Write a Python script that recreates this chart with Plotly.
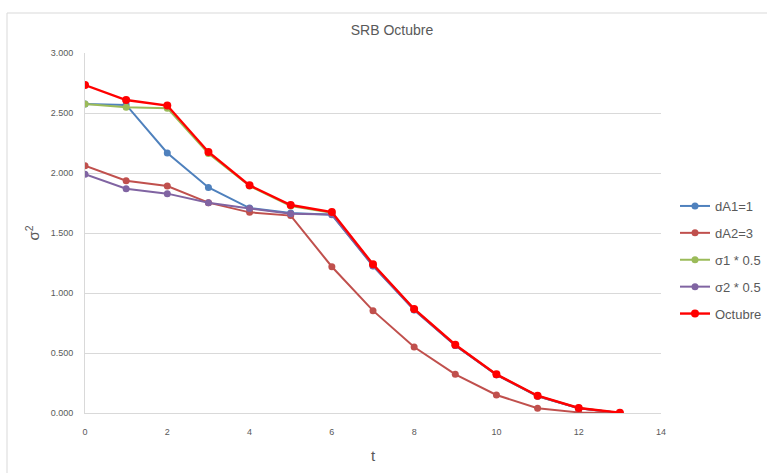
import plotly.graph_objects as go

t = list(range(14))
dA1 = [2.575, 2.567, 2.167, 1.880, 1.708, 1.667, 1.652, 1.225, 0.858, 0.562, 0.318, 0.140, 0.040, 0.000]
dA2 = [2.061, 1.936, 1.892, 1.753, 1.672, 1.645, 1.219, 0.853, 0.550, 0.322, 0.150, 0.040, 0.005, 0.000]
s1 = [2.575, 2.548, 2.540, 2.163, 1.892, 1.725, 1.668, 1.235, 0.865, 0.566, 0.320, 0.142, 0.041, 0.000]
s2 = [1.990, 1.869, 1.828, 1.753, 1.705, 1.660, 1.655, 1.228, 0.860, 0.563, 0.319, 0.141, 0.040, 0.000]
octubre = [2.733, 2.608, 2.562, 2.175, 1.897, 1.733, 1.675, 1.239, 0.867, 0.569, 0.322, 0.144, 0.042, 0.003]

names = ["dA1=1", "dA2=3", "σ1 * 0.5", "σ2 * 0.5", "Octubre"]
series = [dA1, dA2, s1, s2, octubre]
colors = ["#4F81BD", "#C0504D", "#9BBB59", "#8064A2", "#FF0000"]

ytick_vals = [0, 0.5, 1.0, 1.5, 2.0, 2.5, 3.0]
ytick_text = ["0.000", "0.500", "1.000", "1.500", "2.000", "2.500", "3.000"]
xtick_vals = [0, 2, 4, 6, 8, 10, 12, 14]

fig = go.Figure()
for i, (n, ys, c) in enumerate(zip(names, series, colors)):
    red = (n == "Octubre")
    fig.add_trace(go.Scatter(
        x=t, y=ys, name=n, mode="lines+markers",
        line=dict(color=c, width=2.4 if red else 2),
        marker=dict(color=c, size=8 if red else 7),
        legendgroup=f"g{i}",
    ))

W = 767 - 85  # paper width with r=0
grey = "#595959"
fig.update_layout(
    width=767, height=473,
    margin=dict(l=85, r=0, t=53, b=60, autoexpand=False),
    paper_bgcolor="white", plot_bgcolor="white",
    font=dict(family="Liberation Sans", color=grey),
    title=dict(text="SRB Octubre", x=392/767, xanchor="center", y=1-30/473, yanchor="middle",
               font=dict(size=14, color=grey)),
    xaxis=dict(domain=[0, (661-85)/W], range=[0, 14], tickvals=xtick_vals, showgrid=False, zeroline=False,
               showline=True, linecolor="#D9D9D9", linewidth=1,
               tickfont=dict(size=9, color=grey), ticks="", ticklabelstandoff=10,
               title=dict(text="t", font=dict(size=15, color=grey), standoff=14)),
    yaxis=dict(range=[0, 3], tickvals=ytick_vals, ticktext=ytick_text, showgrid=True,
               gridcolor="#D9D9D9", gridwidth=1, zeroline=False,
               showline=True, linecolor="#D9D9D9", linewidth=1,
               tickfont=dict(size=9, color=grey), ticks="", ticklabelstandoff=9,
               title=dict(text="σ<sup>2</sup>", font=dict(size=15, color=grey), standoff=7)),
    legend=dict(x=(675-85)/W, xanchor="left", y=0.425, yanchor="middle",
                font=dict(size=13, color=grey), tracegroupgap=7, traceorder="grouped",
                bgcolor="rgba(0,0,0,0)"),
    showlegend=True,
)
fig.add_shape(type="line", xref="paper", yref="paper", x0=(7-85)/W, x1=1.1, y0=(413-13)/360, y1=(413-13)/360,
              line=dict(color="#D9D9D9", width=1))
fig.add_shape(type="line", xref="paper", yref="paper", x0=(7-85)/W, x1=(7-85)/W, y0=(413-13)/360, y1=-0.3,
              line=dict(color="#D9D9D9", width=1))

fig.write_html("out.html")
